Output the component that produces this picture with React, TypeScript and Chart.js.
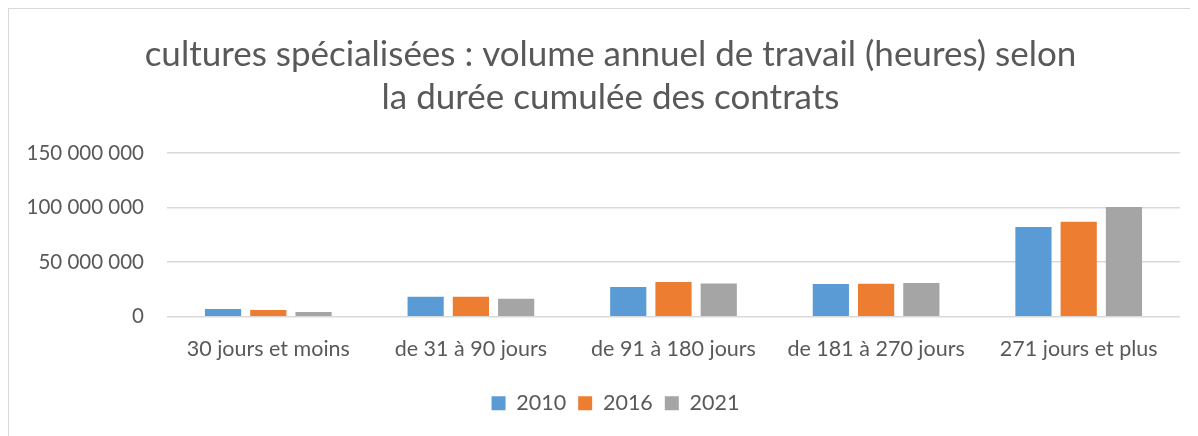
import React, { useEffect, useRef } from "react";
import { Chart, registerables } from "chart.js";

Chart.register(...registerables);

const categories = [
  "30 jours et moins",
  "de 31 à 90 jours",
  "de 91 à 180 jours",
  "de 181 à 270 jours",
  "271 jours et plus",
];
const values2010 = [7000000, 18300000, 27100000, 29900000, 82300000];
const values2016 = [6100000, 18300000, 31700000, 30200000, 87100000];
const values2021 = [4300000, 16500000, 30400000, 30800000, 100600000];
const titleLines = [
  "cultures spécialisées : volume annuel de travail (heures) selon",
  "la durée cumulée des contrats",
];

const FONT = "Lato, 'Noto Sans', sans-serif";
const TEXT = "#595959";

function fmt(v: number): string {
  return String(v).replace(/\B(?=(\d{3})+(?!\d))/g, " ");
}

const shiftBoxes = {
  id: "shiftBoxes",
  afterLayout(chart: any) {
    const t = chart.titleBlock;
    if (t) {
      t.left += 16;
      t.right += 16;
    }
    const l = chart.legend;
    if (l) {
      l.left += 21;
      l.right += 21;
    }
  },
};

export default function App() {
  const ref = useRef<HTMLCanvasElement | null>(null);
  useEffect(() => {
    document.body.style.overflow = "hidden";
    const ctx = ref.current!;
    const chart = new Chart(ctx, {
      type: "bar",
      data: {
        labels: categories,
        datasets: [
          { label: "2010", data: values2010, backgroundColor: "#5B9BD5" },
          { label: "2016", data: values2016, backgroundColor: "#ED7D31" },
          { label: "2021", data: values2021, backgroundColor: "#A5A5A5" },
        ],
      },
      plugins: [shiftBoxes],
      options: {
        responsive: false,
        animation: false,
        maintainAspectRatio: false,
        datasets: { bar: { categoryPercentage: 0.67, barPercentage: 0.8 } },
        layout: { padding: { left: 0, right: 21, top: 0, bottom: 15 } },
        plugins: {
          title: {
            display: true,
            text: titleLines,
            color: TEXT,
            font: { family: FONT, size: 35, weight: "normal", lineHeight: 43 / 35 },
            padding: { top: 24, bottom: 34 },
          },
          legend: {
            position: "bottom",
            labels: {
              color: TEXT,
              font: { family: FONT, size: 21.5 },
              boxWidth: 14,
              boxHeight: 14,
              padding: 12,
            },
          },
          tooltip: { enabled: false },
        },
        scales: {
          x: {
            grid: { display: false, drawTicks: false },
            border: { display: false },
            ticks: { color: TEXT, font: { family: FONT, size: 21.5 }, padding: 19, maxRotation: 0 },
          },
          y: {
            min: 0,
            max: 150000000,
            afterFit: (scale: any) => {
              scale.width = 158;
            },
            grid: { color: "#d9d9d9", lineWidth: 1.5, drawTicks: false },
            border: { display: false },
            ticks: {
              stepSize: 50000000,
              color: TEXT,
              font: { family: FONT, size: 20.5 },
              padding: 23,
              callback: (v: any) => fmt(Number(v)),
            },
          },
        },
      },
    });
    return () => chart.destroy();
  }, []);
  return (
    <div
      style={{
        width: 1192,
        height: 430,
        border: "1px solid #d9d9d9",
        background: "#fff",
      }}
    >
      <canvas ref={ref} width={1192} height={430} style={{ display: "block" }} />
    </div>
  );
}
